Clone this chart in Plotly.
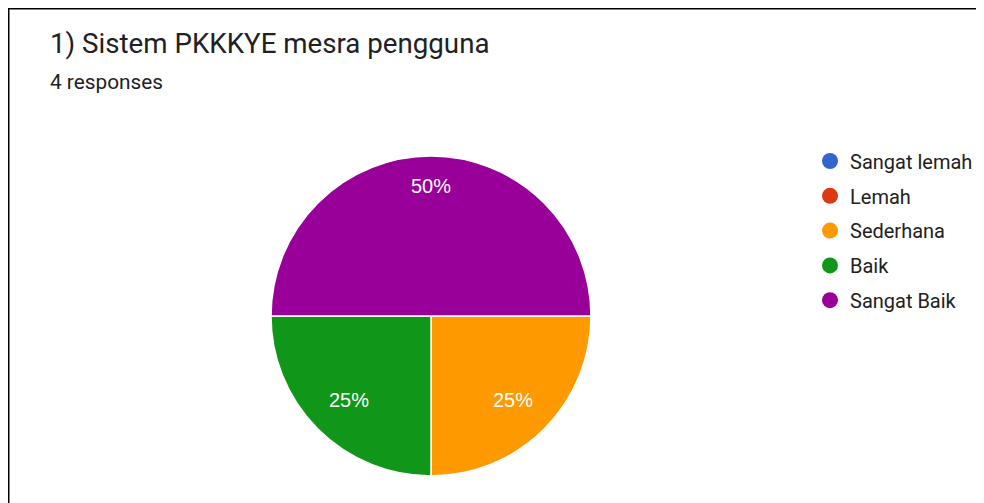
import math
import plotly.graph_objects as go

title_text = "1) Sistem PKKKYE mesra pengguna"
subtitle_text = "4 responses"
categories = ["Sangat lemah", "Lemah", "Sederhana", "Baik", "Sangat Baik"]
counts = [0, 0, 1, 1, 2]
colors = ["#3366cc", "#dc3912", "#ff9900", "#109618", "#990099"]

# figure sits inside the page's 8px body margin
W, H = 976, 495
cx, cy, r = 423, 308, 160

fig = go.Figure()
fig.add_trace(go.Pie(
    labels=categories, values=counts, sort=False, direction="clockwise",
    rotation=90, marker=dict(colors=colors, line=dict(color="white", width=1.5)),
    textinfo="none", showlegend=False, hoverinfo="label+value+percent",
    domain=dict(x=[(cx - r) / W, (cx + r) / W], y=[(H - cy - r) / H, (H - cy + r) / H]),
))
for name, col in zip(categories, colors):
    fig.add_trace(go.Scatter(
        x=[None], y=[None], mode="markers", name=name, legendgroup=name,
        marker=dict(symbol="circle", size=20, color=col), showlegend=True,
    ))

# percentage labels placed at each slice's mid-angle (clockwise from 3 o'clock)
annotations = []
total = sum(counts)
start = 90.0
for v in counts:
    if v == 0:
        continue
    frac = v / total
    mid = start + frac * 360 / 2
    start += frac * 360
    f = 0.825 if frac >= 0.5 else 0.725
    lx = cx + f * r * math.sin(math.radians(mid))
    ly = cy - f * r * math.cos(math.radians(mid)) + 1.5
    annotations.append(dict(
        text=f"{round(frac * 100)}%", x=lx / W, y=1 - ly / H, xref="paper", yref="paper",
        xanchor="center", yanchor="middle", showarrow=False,
        font=dict(family="Arial, Liberation Sans", size=20, color="white")))

annotations += [
    dict(text=title_text, x=40 / W, y=1 - 35 / H, xref="paper", yref="paper",
         xanchor="left", yanchor="middle", showarrow=False,
         font=dict(size=27.7, color="#202124")),
    dict(text=subtitle_text, x=40 / W, y=1 - 74 / H, xref="paper", yref="paper",
         xanchor="left", yanchor="middle", showarrow=False,
         font=dict(size=20.8, color="#202124")),
]

fig.update_layout(
    width=W, height=H, margin=dict(l=0, r=0, t=0, b=0),
    paper_bgcolor="white", plot_bgcolor="white",
    font=dict(family="Roboto, Arial", color="#212121"),
    xaxis=dict(visible=False), yaxis=dict(visible=False),
    legend=dict(x=802 / W, y=1 - 133.5 / H, xanchor="left", yanchor="top",
                font=dict(size=20, color="#212121"), tracegroupgap=5.8,
                bgcolor="rgba(0,0,0,0)"),
    annotations=annotations,
    shapes=[
        dict(type="line", xref="paper", yref="paper", x0=0, x1=1, y0=1 - 0.5 / H, y1=1 - 0.5 / H,
             line=dict(color="black", width=2)),
        dict(type="line", xref="paper", yref="paper", x0=0.5 / W, x1=0.5 / W, y0=0, y1=1,
             line=dict(color="black", width=2)),
    ],
)
fig.write_html("out.html")
